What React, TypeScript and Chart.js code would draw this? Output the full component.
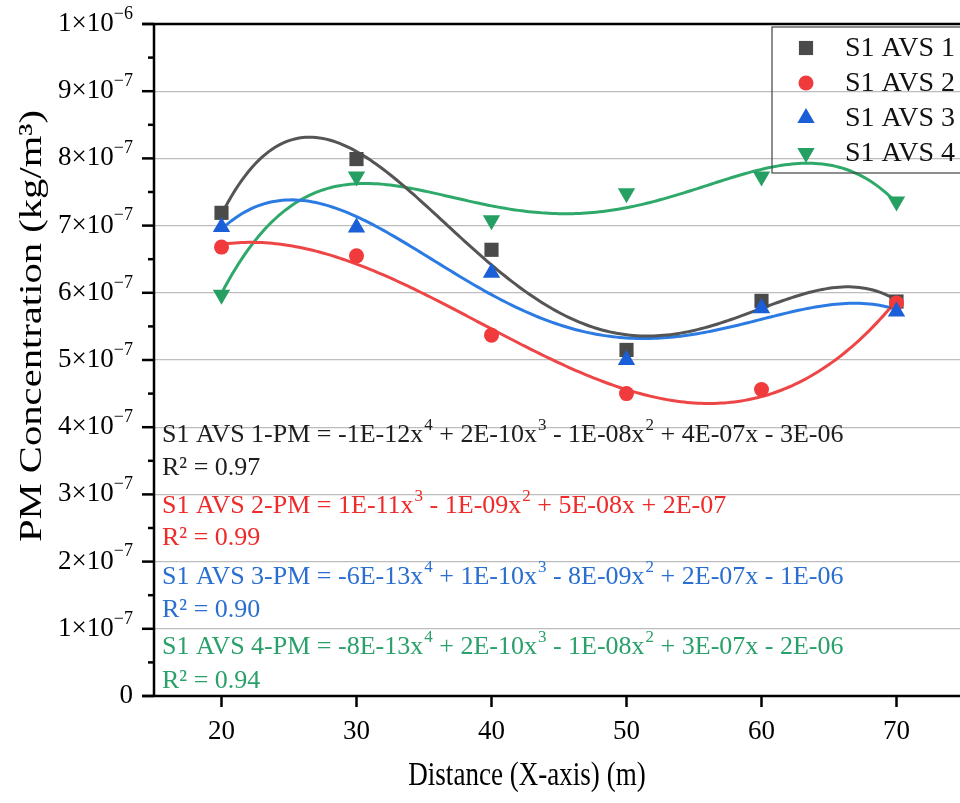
import React, { useEffect, useRef } from 'react';
import { Chart, registerables } from 'chart.js';

Chart.register(...registerables);

// ---------- data ----------
const distances = [20, 30, 40, 50, 60, 70];
const avs1 = [7.19e-7, 7.99e-7, 6.64e-7, 5.15e-7, 5.88e-7, 5.87e-7];
const avs2 = [6.68e-7, 6.55e-7, 5.37e-7, 4.50e-7, 4.56e-7, 5.85e-7];
const avs3 = [6.98e-7, 6.97e-7, 6.30e-7, 5.00e-7, 5.77e-7, 5.72e-7];
const avs4 = [5.97e-7, 7.73e-7, 7.08e-7, 7.48e-7, 7.73e-7, 7.36e-7];
const seriesNames = ['S1 AVS 1', 'S1 AVS 2', 'S1 AVS 3', 'S1 AVS 4'];
const fitDegrees = [4, 3, 4, 4];
const equations = [
  'S1 AVS 1-PM = -1E-12x^4 + 2E-10x^3 - 1E-08x^2 + 4E-07x - 3E-06',
  'S1 AVS 2-PM = 1E-11x^3 - 1E-09x^2 + 5E-08x + 2E-07',
  'S1 AVS 3-PM = -6E-13x^4 + 1E-10x^3 - 8E-09x^2 + 2E-07x - 1E-06',
  'S1 AVS 4-PM = -8E-13x^4 + 2E-10x^3 - 1E-08x^2 + 3E-07x - 2E-06',
];
const rSquared = ['R² = 0.97', 'R² = 0.99', 'R² = 0.90', 'R² = 0.94'];
const xTicks = [20, 30, 40, 50, 60, 70];
const yTickMantissas = [0, 1, 2, 3, 4, 5, 6, 7, 8, 9, 1];
const yTickExponents = [0, -7, -7, -7, -7, -7, -7, -7, -7, -7, -6];
const xTitle = 'Distance (X-axis) (m)';
const yTitle = 'PM Concentration (kg/m³)';

const allSeries = [avs1, avs2, avs3, avs4];
const markerColors = ['#4a4a4a', '#f03a3c', '#1a5ed8', '#25a062'];
const lineColors = ['#555555', '#ee4646', '#2b7be2', '#2fa96a'];
const textColors = ['#1e1e1e', '#ee2a2a', '#2a6fd0', '#2aa06a'];
const pointStyles = ['rect', 'circle', 'triangle', 'triangle'];
const pointRotations = [0, 0, 0, 180];
const pointRadii = [10, 7.5, 10, 10];

const FONT = "'Liberation Serif', 'Times New Roman', serif";

// least-squares polynomial trendline computed from the data
function polyFit(xs: number[], ys: number[], deg: number) {
  const n = deg + 1;
  const A: number[][] = Array.from({ length: n }, () => new Array(n + 1).fill(0));
  xs.forEach((x0, k) => {
    const u = (x0 - 45) / 25;
    const y = ys[k] * 1e7;
    for (let i = 0; i < n; i++) {
      for (let j = 0; j < n; j++) A[i][j] += Math.pow(u, i + j);
      A[i][n] += Math.pow(u, i) * y;
    }
  });
  for (let c = 0; c < n; c++) {
    let p = c;
    for (let r = c + 1; r < n; r++) if (Math.abs(A[r][c]) > Math.abs(A[p][c])) p = r;
    [A[c], A[p]] = [A[p], A[c]];
    for (let r = 0; r < n; r++) {
      if (r === c) continue;
      const f = A[r][c] / A[c][c];
      for (let k = c; k <= n; k++) A[r][k] -= f * A[c][k];
    }
  }
  const coef = A.map((row, i) => row[n] / row[i]);
  return (x: number) => {
    const u = (x - 45) / 25;
    let s = 0;
    for (let i = 0; i < n; i++) s += coef[i] * Math.pow(u, i);
    return s * 1e-7;
  };
}

function drawRich(ctx: CanvasRenderingContext2D, text: string, x: number, y: number, size: number, color: string) {
  // '^c' marks a superscript character
  ctx.save();
  ctx.fillStyle = color;
  ctx.textBaseline = 'middle';
  ctx.textAlign = 'left';
  let cx = x;
  let i = 0;
  while (i < text.length) {
    if (text[i] === '^') {
      const ch = text[i + 1];
      ctx.font = `${Math.round(size * 0.64)}px ${FONT}`;
      ctx.fillText(ch, cx + 1, y - size * 0.38);
      cx += ctx.measureText(ch).width + 1;
      i += 2;
    } else {
      let j = i;
      while (j < text.length && text[j] !== '^') j++;
      const seg = text.slice(i, j);
      ctx.font = `${size}px ${FONT}`;
      ctx.fillText(seg, cx, y);
      cx += ctx.measureText(seg).width;
      i = j;
    }
  }
  ctx.restore();
}

function drawMarker(ctx: CanvasRenderingContext2D, idx: number, x: number, y: number) {
  ctx.save();
  ctx.fillStyle = markerColors[idx];
  ctx.beginPath();
  const r = pointRadii[idx];
  if (idx === 0) {
    const s = Math.SQRT1_2 * r;
    ctx.rect(x - s, y - s, 2 * s, 2 * s);
  } else if (idx === 1) {
    ctx.arc(x, y, r, 0, Math.PI * 2);
  } else {
    const dir = idx === 2 ? 1 : -1;
    ctx.moveTo(x, y - dir * r);
    ctx.lineTo(x + 0.866 * r, y + dir * r * 0.5);
    ctx.lineTo(x - 0.866 * r, y + dir * r * 0.5);
    ctx.closePath();
  }
  ctx.fill();
  ctx.restore();
}

const decorPlugin = {
  id: 'decor',
  afterDraw(chart: any) {
    const ctx: CanvasRenderingContext2D = chart.ctx;
    const xs = chart.scales.x;
    const ys = chart.scales.y;
    const area = chart.chartArea;
    ctx.save();
    ctx.strokeStyle = '#000';
    ctx.lineWidth = 2.5;
    // axes + top frame
    ctx.beginPath();
    ctx.moveTo(area.left, area.top);
    ctx.lineTo(area.left, area.bottom);
    ctx.moveTo(area.left - 12, area.bottom);
    ctx.lineTo(area.right, area.bottom);
    ctx.moveTo(area.left - 12, area.top);
    ctx.lineTo(area.right, area.top);
    ctx.stroke();
    // y ticks
    for (let k = 0; k <= 20; k++) {
      const v = k * 0.5e-7;
      const py = ys.getPixelForValue(v);
      const len = k % 2 === 0 ? 12 : 6;
      ctx.beginPath();
      ctx.moveTo(area.left - len, py);
      ctx.lineTo(area.left, py);
      ctx.stroke();
    }
    // y tick labels
    yTickMantissas.forEach((m, i) => {
      const v = i * 1e-7;
      const py = ys.getPixelForValue(v);
      const right = area.left - 21;
      if (i === 0) {
        ctx.font = `27px ${FONT}`;
        ctx.fillStyle = '#000';
        ctx.textAlign = 'right';
        ctx.textBaseline = 'middle';
        ctx.fillText('0', right, py);
        return;
      }
      const base = `${m}×10`;
      const sup = `\u2212${Math.abs(yTickExponents[i])}`;
      ctx.font = `18px ${FONT}`;
      const sw = ctx.measureText(sup).width;
      ctx.font = `27px ${FONT}`;
      const bw = ctx.measureText(base).width;
      ctx.fillStyle = '#000';
      ctx.textAlign = 'left';
      ctx.textBaseline = 'middle';
      const start = right - sw - bw;
      ctx.fillText(base, start, py);
      ctx.font = `18px ${FONT}`;
      ctx.fillText(sup, start + bw, py - 10);
    });
    // x ticks + labels
    xTicks.forEach((t) => {
      const px = xs.getPixelForValue(t);
      ctx.beginPath();
      ctx.moveTo(px, area.bottom);
      ctx.lineTo(px, area.bottom + 11);
      ctx.stroke();
      ctx.font = `27px ${FONT}`;
      ctx.fillStyle = '#000';
      ctx.textAlign = 'center';
      ctx.textBaseline = 'middle';
      ctx.fillText(String(t), px, 732);
    });
    // titles
    ctx.save();
    ctx.translate(527, 776);
    ctx.scale(0.82, 1);
    ctx.font = `33px ${FONT}`;
    ctx.textAlign = 'center';
    ctx.textBaseline = 'middle';
    ctx.fillStyle = '#000';
    ctx.fillText(xTitle, 0, 0);
    ctx.restore();
    ctx.save();
    ctx.translate(33, 326);
    ctx.rotate(-Math.PI / 2);
    ctx.scale(1.27, 1);
    ctx.font = `32px ${FONT}`;
    ctx.textAlign = 'center';
    ctx.textBaseline = 'middle';
    ctx.fillStyle = '#000';
    ctx.fillText(yTitle, 0, 0);
    ctx.restore();
    // equations
    const eqY = [435, 506, 577, 647];
    const r2Y = [468, 538, 610, 681];
    equations.forEach((eq, i) => {
      drawRich(ctx, eq, 162, eqY[i], 26, textColors[i]);
      drawRich(ctx, rSquared[i], 162, r2Y[i], 26, textColors[i]);
    });
    // legend
    ctx.lineWidth = 1.2;
    ctx.strokeStyle = '#444';
    ctx.strokeRect(772, 27, 300, 146);
    seriesNames.forEach((name, i) => {
      const ry = 48 + i * 35;
      drawMarker(ctx, i, 806, ry);
      ctx.font = `28px ${FONT}`;
      ctx.fillStyle = '#111';
      ctx.textAlign = 'left';
      ctx.textBaseline = 'middle';
      ctx.fillText(name, 845, ry + 1);
    });
    ctx.restore();
  },
};

export default function App() {
  const ref = useRef<HTMLCanvasElement | null>(null);
  useEffect(() => {
    if (!ref.current) return;
    const datasets: any[] = [];
    allSeries.forEach((vals, i) => {
      const f = polyFit(distances, vals, fitDegrees[i]);
      const pts: { x: number; y: number }[] = [];
      for (let x = 20; x <= 70.001; x += 0.25) pts.push({ x, y: f(x) });
      datasets.push({
        label: seriesNames[i] + ' fit',
        data: pts,
        showLine: true,
        borderColor: lineColors[i],
        borderWidth: 3,
        pointRadius: 0,
        tension: 0,
        order: 20 + i,
      });
    });
    allSeries.forEach((vals, i) => {
      datasets.push({
        label: seriesNames[i],
        data: distances.map((x, k) => ({ x, y: vals[k] })),
        showLine: false,
        pointStyle: pointStyles[i],
        rotation: pointRotations[i],
        pointRadius: pointRadii[i],
        backgroundColor: markerColors[i],
        borderColor: markerColors[i],
        borderWidth: 0,
        order: 4 - i,
      });
    });
    const chart = new Chart(ref.current, {
      type: 'scatter',
      data: { datasets },
      options: {
        responsive: false,
        animation: false,
        layout: { autoPadding: false, padding: { top: 24, right: 0, left: 0, bottom: 0 } },
        plugins: { legend: { display: false }, tooltip: { enabled: false }, title: { display: false } },
        scales: {
          x: {
            type: 'linear',
            min: 15,
            max: 75,
            grid: { display: false },
            border: { display: false },
            ticks: { display: false },
            afterFit: (s: any) => { s.height = 107; },
          },
          y: {
            type: 'linear',
            min: 0,
            max: 1e-6,
            ticks: { display: false, stepSize: 1e-7 },
            grid: {
              drawTicks: false,
              tickLength: 0,
              lineWidth: 1.2,
              color: (c: any) => {
                const v = c.tick ? c.tick.value : 0;
                if (v < 0.5e-7 || v > 9.5e-7) return 'rgba(0,0,0,0)';
                return '#bdbdbd';
              },
            },
            border: { display: false },
            afterFit: (s: any) => { s.width = 154; },
          },
        },
      },
      plugins: [decorPlugin],
    });
    return () => chart.destroy();
  }, []);
  return (
    <div style={{ position: 'fixed', left: 0, top: 0, width: 960, height: 803, overflow: 'hidden', background: '#fff' }}>
      <canvas ref={ref} width={964} height={803} />
    </div>
  );
}
